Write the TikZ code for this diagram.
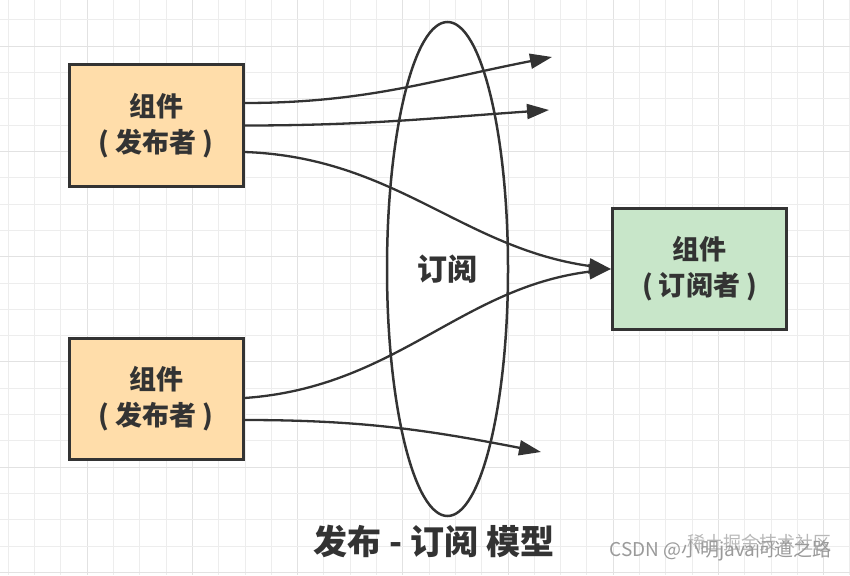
\documentclass[tikz,border=0pt]{standalone}
\usepackage{fontspec}
\setmainfont{Noto Sans CJK SC}
\usepackage{xcolor}
\definecolor{ink}{HTML}{333333}
\definecolor{pubFill}{HTML}{FFDDAA}
\definecolor{subFill}{HTML}{C8E6C9}
\definecolor{gridMinor}{HTML}{EDEDED}
\definecolor{gridMajor}{HTML}{E2E2E2}
\definecolor{markGray}{HTML}{9A9A9A}
\usepackage{tikz}
\usetikzlibrary{arrows.meta,shapes.geometric}

\tikzset{
  compbox/.style={draw=ink, line width=3pt, minimum width=174pt, minimum height=121pt,
    align=center, font=\fontsize{27}{36}\selectfont\bfseries, text=ink},
  flow/.style={draw=ink, line width=2.3pt, -{Triangle[length=22pt,width=15pt]}},
}

\begin{document}
\begin{tikzpicture}[x=1pt, y=-1pt]
  \useasboundingbox (0,0) rectangle (850,575);
  \fill[white] (0,0) rectangle (850,575);
  % grid paper
  \foreach \i in {0,...,32}{
    \pgfmathtruncatemacro{\m}{mod(\i,4)}
    \ifnum\m=3 \def\gc{gridMajor}\else\def\gc{gridMinor}\fi
    \draw[line width=1pt, \gc] ({8.3+26.3*\i},0) -- ({8.3+26.3*\i},575);
  }
  \foreach \j in {0,...,21}{
    \pgfmathtruncatemacro{\m}{mod(\j,4)}
    \ifnum\m=1 \def\gc{gridMajor}\else\def\gc{gridMinor}\fi
    \draw[line width=1pt, \gc] (0,{20+26.3*\j}) -- (850,{20+26.3*\j});
  }

  % the channel
  \node[ellipse, draw=ink, line width=2.5pt, fill=white, minimum width=121pt, minimum height=494pt,
    inner sep=0pt, font=\fontsize{30}{34}\selectfont\bfseries, text=ink] (channel) at (447.5,269) {订阅};

  % components
  \node[compbox, fill=pubFill] (pubTop) at (156,125.5) {组件\\( 发布者 )};
  \node[compbox, fill=pubFill] (pubBottom) at (156,399) {组件\\( 发布者 )};
  \node[compbox, fill=subFill] (subscriber) at (699.5,269) {组件\\( 订阅者 )};

  % loose arrow ends
  \coordinate (outA) at (552,57);
  \coordinate (outB) at (549,110);
  \coordinate (outC) at (541,452);

  % messages
  \draw[flow] ([yshift=22.5pt]pubTop.east) to[out=0, in=191] (outA);
  \draw[flow] (pubTop.east) to[out=0, in=184] (outB);
  \draw[flow] ([yshift=-26.5pt]pubTop.east) to[out=-2, in=172] (subscriber.west);
  \draw[flow] ([yshift=1pt]pubBottom.east) to[out=4, in=187] (subscriber.west);
  \draw[flow] ([yshift=-21pt]pubBottom.east) to[out=0, in=169] (outC);

  % caption
  \node[font=\fontsize{34}{38}\selectfont\bfseries, text=ink] (title) at (434,541) {发布 - 订阅 模型};

  % watermark
  \node[anchor=east, font=\fontsize{18}{20}\selectfont, text=markGray!70] (markA) at (835,543) {稀土掘金技术社区};
  \node[anchor=east, font=\fontsize{19}{20}\selectfont, text=markGray] (markB) at (835,551) {CSDN @小明java问道之路};
\end{tikzpicture}
\end{document}
